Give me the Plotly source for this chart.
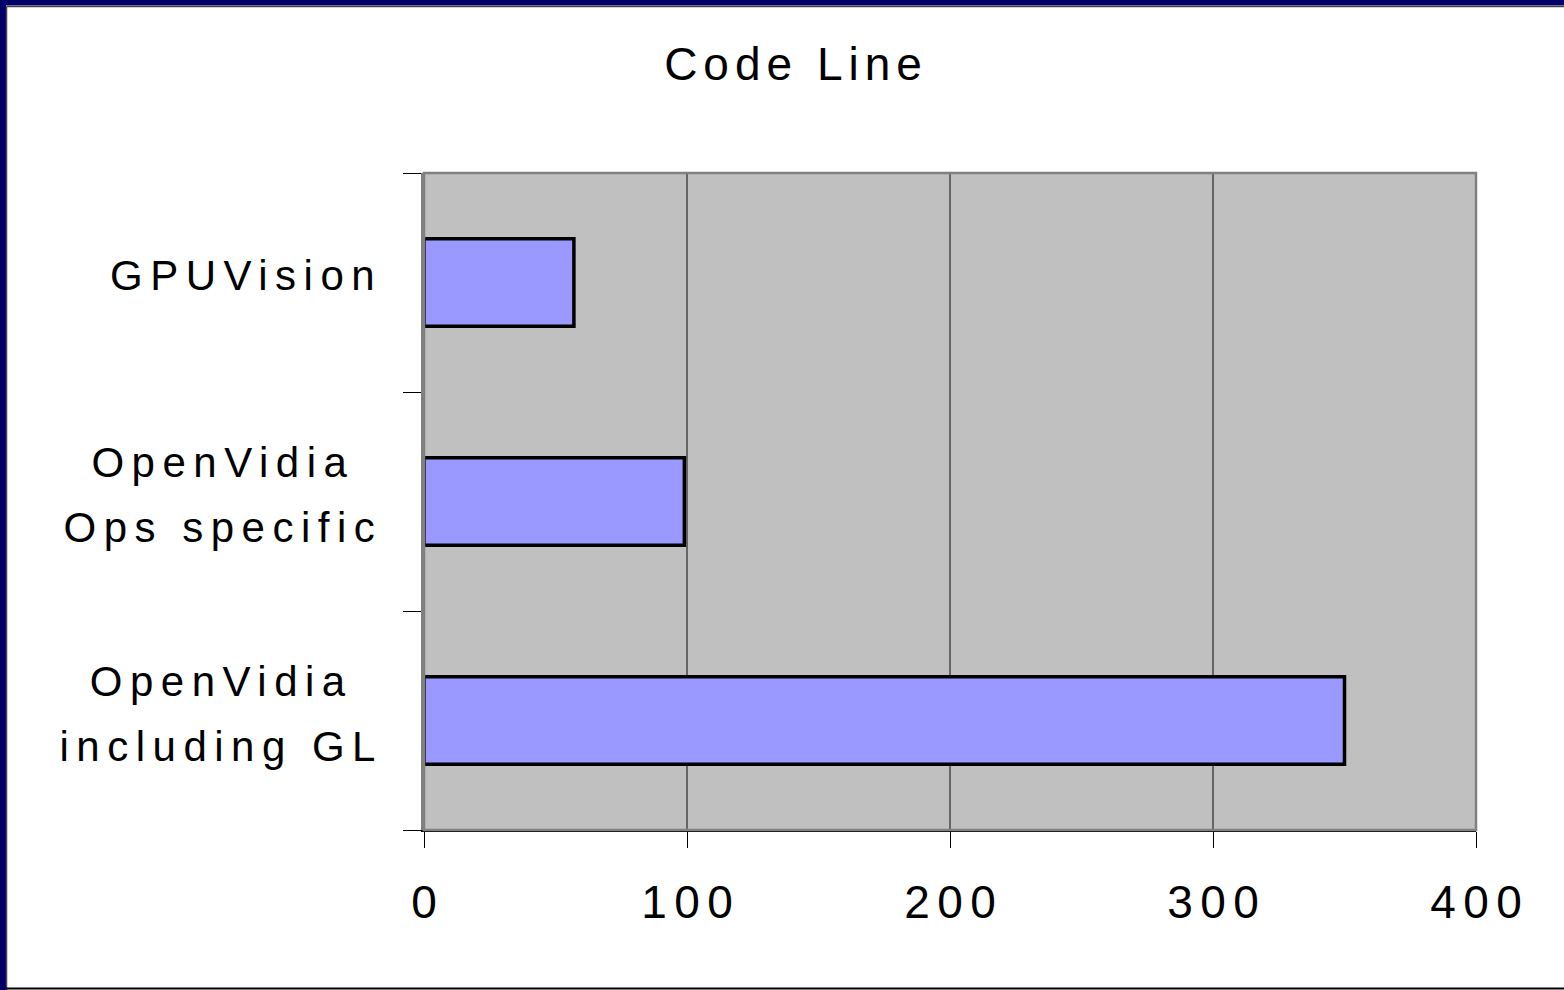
import plotly.graph_objects as go

# Lines of code per implementation
categories = ["GPUVision", "OpenVidia<br>Ops specific", "OpenVidia<br>including GL"]
code_lines = [57, 99, 350]
x_ticks = [0, 100, 200, 300, 400]

W, H = 1564, 990
L, R, T, B = 424, 88, 173, 160
PW, PH = W - L - R, H - T - B

FONT = "Arial, Liberation Sans, sans-serif"


def px_x(p):
    return (p - L) / PW


def px_y(p):
    return (H - B - p) / PH


fig = go.Figure(
    go.Bar(
        x=code_lines,
        y=categories,
        orientation="h",
        marker=dict(color="#9999FF", line=dict(color="black", width=3.5)),
        hoverinfo="x+y",
    )
)

# category labels: right-aligned block, lines centred within it
annotations = [
    dict(
        text=c,
        x=px_x(377),
        xref="paper",
        y=c,
        yref="y",
        yshift=7,
        xanchor="right",
        yanchor="middle",
        align="center",
        showarrow=False,
        font=dict(family=FONT, size=42, color="black"),
    )
    for c in categories
]

shapes = [
    # plot frame
    dict(type="rect", xref="paper", yref="paper", x0=0, x1=1, y0=0, y1=1,
         line=dict(color="#808080", width=2.5), layer="above"),
    # page frame: navy band on the left and top, dark rule at the bottom
    dict(type="rect", xref="paper", yref="paper", x0=px_x(0), x1=px_x(6),
         y0=px_y(990), y1=px_y(0), fillcolor="#000066", line=dict(width=0)),
    dict(type="rect", xref="paper", yref="paper", x0=px_x(0), x1=px_x(1564),
         y0=px_y(5.5), y1=px_y(0), fillcolor="#000066", line=dict(width=0)),
    dict(type="line", xref="paper", yref="paper", x0=px_x(6.5), x1=px_x(1564),
         y0=px_y(6.5), y1=px_y(6.5), line=dict(color="#444444", width=1.5)),
    dict(type="line", xref="paper", yref="paper", x0=px_x(6.5), x1=px_x(6.5),
         y0=px_y(990), y1=px_y(6.5), line=dict(color="#444444", width=1.5)),
    dict(type="line", xref="paper", yref="paper", x0=px_x(6), x1=px_x(1564),
         y0=px_y(988.5), y1=px_y(988.5), line=dict(color="black", width=2)),
]

fig.update_layout(
    width=W,
    height=H,
    margin=dict(l=L, r=R, t=T, b=B, pad=0),
    paper_bgcolor="white",
    plot_bgcolor="#C0C0C0",
    bargap=0.6,
    showlegend=False,
    title=dict(
        text="Code Line",
        x=793 / W,
        xanchor="center",
        y=1 - 64 / H,
        yanchor="middle",
        font=dict(family=FONT, size=46, color="black"),
    ),
    annotations=annotations,
    shapes=shapes,
    xaxis=dict(
        range=[0, 400],
        tickvals=x_ticks,
        ticks="outside",
        ticklen=16,
        tickcolor="black",
        tickwidth=1,
        showgrid=True,
        gridcolor="#666666",
        gridwidth=1.5,
        zeroline=False,
        showline=True,
        linecolor="black",
        linewidth=1.5,
        tickfont=dict(family=FONT, size=46, color="black"),
        ticklabelstandoff=15,
        fixedrange=True,
    ),
    yaxis=dict(
        categoryorder="array",
        categoryarray=categories[::-1],
        showticklabels=False,
        ticks="outside",
        tickson="boundaries",
        ticklen=18,
        tickcolor="black",
        tickwidth=1,
        showgrid=False,
        zeroline=False,
        showline=True,
        linecolor="#808080",
        linewidth=2.5,
        fixedrange=True,
    ),
)

# Widen the letter spacing of the texts and open up the line spacing of the
# two-line category labels, keeping each label block right-aligned.
post_js = """
(function () {
  var gd = document.getElementById('{plot_id}');
  function nudge(t, dx, dy) {
    var tr = t.getAttribute('transform') || '';
    t.setAttribute('transform', (tr + ' translate(' + dx + ',' + dy + ')').trim());
  }
  gd.querySelectorAll('.gtitle').forEach(function (t) {
    t.style.letterSpacing = '6px';
    nudge(t, 3, 0);
  });
  gd.querySelectorAll('.xtick text').forEach(function (t) {
    t.style.letterSpacing = '7.5px';
    nudge(t, 3.75, 0);
  });
  gd.querySelectorAll('.annotation-text').forEach(function (t) {
    var b0 = t.getBBox();
    var right0 = b0.x + b0.width;
    var cy0 = b0.y + b0.height / 2;
    t.style.letterSpacing = '7.5px';
    t.querySelectorAll('tspan.line').forEach(function (s, i) {
      if (i > 0) s.setAttribute('dy', (1.55 * i) + 'em');
    });
    var b1 = t.getBBox();
    nudge(t, right0 - (b1.x + b1.width) + 7.5, cy0 - (b1.y + b1.height / 2));
  });
})();
"""

fig.write_html("out.html", post_script=post_js)
